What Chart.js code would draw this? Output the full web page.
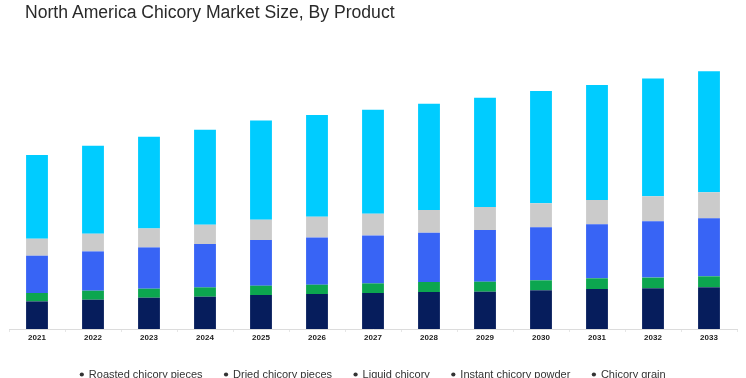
<!DOCTYPE html>
<html>
<head>
<meta charset="utf-8">
<script src="https://cdn.jsdelivr.net/npm/chart.js@4/dist/chart.umd.min.js"></script>
<style>
	body { margin: 0; background: #fff; overflow: hidden; }
	#wrap { position: relative; width: 746px; height: 378px; overflow: hidden; }
	#title { position: absolute; left: 25px; top: 4px; font: 17.6px "Liberation Sans", Arial, sans-serif; line-height: 17px; color: #2a2a2a; white-space: nowrap; }
	canvas { position: absolute; left: 0; top: 0; }
</style>
</head>
<body>
<div id="wrap">
	<canvas id="chart" width="746" height="390"></canvas>
	<div id="title">North America Chicory Market Size, By Product</div>
</div>
<script>
var years = ['2021', '2022', '2023', '2024', '2025', '2026', '2027', '2028', '2029', '2030', '2031', '2032', '2033'];
var roasted = [27.6, 29.3, 31.3, 32.3, 34.0, 35.0, 36.0, 37.0, 37.3, 38.7, 40.0, 40.7, 41.7];
var dried = [8.4, 9.0, 9.0, 9.3, 9.3, 9.3, 9.6, 10.0, 10.0, 10.0, 10.7, 10.7, 11.0];
var liquid = [37.3, 39.3, 41.3, 43.4, 45.7, 47.3, 48.0, 49.3, 51.7, 53.0, 54.0, 56.3, 58.0];
var instant = [17.0, 17.7, 19.0, 19.3, 20.3, 20.7, 21.7, 22.7, 23.0, 24.0, 24.3, 25.0, 26.0];
var grain = [83.7, 88.0, 91.7, 95.0, 99.3, 101.7, 104.0, 106.3, 109.3, 112.3, 115.0, 117.7, 121.0];

var ctx = document.getElementById('chart').getContext('2d');

function ds(label, values, color) {
	return {
		label: label,
		data: values,
		backgroundColor: color,
		borderWidth: 0,
		barPercentage: 0.39,
		categoryPercentage: 1.0
	};
}

new Chart(ctx, {
	type: 'bar',
	data: {
		labels: years,
		datasets: [
			ds('Roasted chicory pieces', roasted, '#061d5c'),
			ds('Dried chicory pieces', dried, '#0ca64f'),
			ds('Liquid chicory', liquid, '#3864f5'),
			ds('Instant chicory powder', instant, '#cbcbcb'),
			ds('Chicory grain', grain, '#00ccff')
		]
	},
	options: {
		responsive: false,
		animation: false,
		devicePixelRatio: 1,
		layout: {
			padding: { top: 49, left: 9, right: 9, bottom: 0 }
		},
		scales: {
			x: {
				stacked: true,
				grid: { drawOnChartArea: false, drawTicks: true, tickLength: 3, color: '#e6e6e6' },
				border: { color: '#dcdcdc' },
				ticks: {
					padding: 1,
					color: '#222',
					font: { family: '"Liberation Sans", Arial, sans-serif', size: 8, weight: 'bold' }
				},
				afterFit: function (scale) {
					scale.height = 18;
				}
			},
			y: {
				stacked: true,
				display: false,
				min: 0,
				max: 280
			}
		},
		plugins: {
			title: { display: false },
			legend: {
				position: 'bottom',
				labels: {
					usePointStyle: true,
					pointStyle: 'circle',
					boxWidth: 3,
					boxHeight: 3,
					padding: 22,
					color: '#333',
					font: { family: '"Liberation Sans", Arial, sans-serif', size: 11 },
					generateLabels: function (chart) {
						var items = Chart.defaults.plugins.legend.labels.generateLabels(chart);
						items.forEach(function (it) {
							it.fillStyle = '#333';
							it.strokeStyle = '#333';
						});
						return items;
					}
				}
			}
		}
	}
});
</script>
</body>
</html>
